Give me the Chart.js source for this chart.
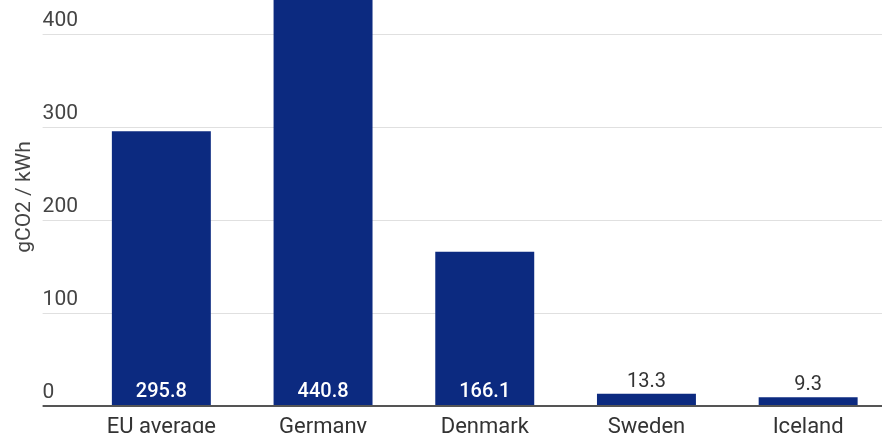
<!DOCTYPE html>
<html>
<head>
<meta charset="utf-8">
<script src="https://cdn.jsdelivr.net/npm/chart.js@4/dist/chart.umd.min.js"></script>
<style>
  html, body { margin: 0; padding: 0; background: #fff; overflow: hidden; }
  #frame { position: relative; width: 882px; height: 433px; overflow: hidden; }
  #box { position: absolute; left: 0; top: -12px; width: 889px; height: 458px; }
</style>
</head>
<body>
<div id="frame"><div id="box"><canvas id="c"></canvas></div></div>
<script>
// Carbon intensity of electricity, gCO2 per kWh
const categories = ['EU average', 'Germany', 'Denmark', 'Sweden', 'Iceland'];
const intensity = [295.8, 440.8, 166.1, 13.3, 9.3];
const yTicks = [0, 100, 200, 300, 400];
const axisTitle = 'gCO2 / kWh';

const BAR = '#0c2a80';
const FONT = 'Roboto';

// Value labels: white inside tall bars, grey above short ones
const valueLabels = {
  id: 'valueLabels',
  afterDatasetsDraw(chart) {
    const { ctx } = chart;
    const y = chart.scales.y;
    const base = y.getPixelForValue(0);
    chart.getDatasetMeta(0).data.forEach((bar, i) => {
      const v = intensity[i];
      const h = base - y.getPixelForValue(v);
      const text = v.toFixed(1);
      ctx.save();
      ctx.textAlign = 'center';
      ctx.textBaseline = 'alphabetic';
      if (h > 30) {
        ctx.fillStyle = '#ffffff';
        ctx.font = '500 20px ' + FONT;
        ctx.fillText(text, bar.x, base - 9);
      } else {
        ctx.fillStyle = '#333333';
        ctx.font = '400 20px ' + FONT;
        ctx.fillText(text, bar.x, bar.y - 7);
      }
      ctx.restore();
    });
  }
};

new Chart(document.getElementById('c'), {
  type: 'bar',
  data: {
    labels: categories,
    datasets: [{
      data: intensity,
      backgroundColor: BAR,
      borderWidth: 0,
      barPercentage: 0.612,
      categoryPercentage: 1
    }]
  },
  options: {
    responsive: true,
    maintainAspectRatio: false,
    animation: false,
    devicePixelRatio: 1,
    layout: { padding: { left: 42.6, right: 0, top: 0, bottom: 0 } },
    plugins: { legend: { display: false }, tooltip: { enabled: false } },
    scales: {
      x: {
        offset: true,
        z: 1,
        grid: { display: false, drawTicks: false },
        border: { display: true, color: '#555555', width: 2 },
        ticks: {
          color: '#333333',
          font: { family: FONT, size: 22 },
          padding: 8,
          maxRotation: 0,
          autoSkip: false
        },
        afterFit(s) { s.height = 40; s.paddingLeft = 0; s.paddingRight = 0; }
      },
      y: {
        min: 0,
        max: 450,
        afterBuildTicks(s) { s.ticks = yTicks.map(v => ({ value: v })); },
        afterFit(s) { s.width = 37.9; s.paddingTop = 0; s.paddingBottom = 0; },
        border: { display: false },
        grid: {
          color: c => (c.tick && c.tick.value === 0 ? '#555555' : '#e0e0e0'),
          lineWidth: c => (c.tick && c.tick.value === 0 ? 2 : 1),
          tickLength: 37.9,
          drawTicks: true
        },
        ticks: {
          crossAlign: 'far',
          labelOffset: -13.5,
          padding: 0,
          color: '#444444',
          font: { family: FONT, size: 21 }
        },
        title: {
          display: true,
          text: axisTitle,
          color: '#444444',
          font: { family: FONT, size: 21 },
          padding: { top: -30.2, bottom: 0 }
        }
      }
    }
  },
  plugins: [valueLabels]
});
</script>
</body>
</html>
